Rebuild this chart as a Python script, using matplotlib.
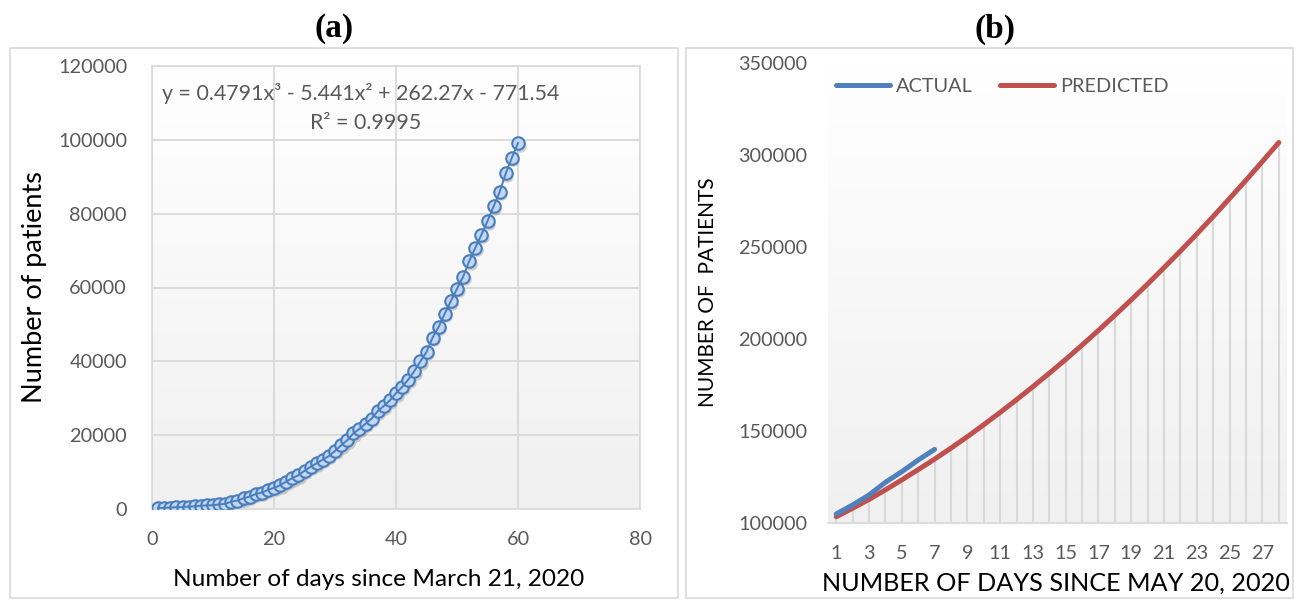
import numpy as np
import matplotlib.pyplot as plt
from matplotlib.colors import LinearSegmentedColormap
from matplotlib.patches import Rectangle
import matplotlib.transforms as mtransforms

# ==========================================
# data
# ==========================================
# (a) cumulative patients, day 1 = March 21, 2020
days_a = list(range(1, 61))
patients_a = [283, 315, 396, 499, 536, 657, 727, 887, 987, 1024,
              1251, 1397, 1998, 2301, 2902, 3374, 4067, 4421, 5194, 5734,
              6412, 7447, 8356, 9152, 10363, 11439, 12380, 13387, 14378, 15712,
              17265, 18601, 20471, 21700, 23077, 24506, 26496, 27892, 29435, 31332,
              33050, 35043, 37336, 39980, 42533, 46433, 49391, 52952, 56342, 59662,
              62939, 67152, 70756, 74281, 78003, 81970, 85940, 90927, 95169, 99139]
equation_text = 'y = 0.4791x\u00b3 - 5.441x\u00b2 + 262.27x - 771.54'
r2_text = 'R\u00b2 = 0.9995'

# (b) actual vs predicted, day 1 = May 20, 2020
days_actual = [1, 2, 3, 4, 5, 6, 7]
actual = [104900, 109800, 115200, 122100, 127900, 134200, 140000]
days_pred = list(range(1, 29))
predicted = [103400, 108000, 112800, 118000, 123400, 129000, 134700, 140700,
             146900, 153400, 160100, 167000, 174100, 181400, 188900, 196700,
             204700, 212900, 221300, 229900, 238800, 247800, 257100, 266600,
             276400, 286300, 296500, 306800]
xticks_b = list(range(1, 29, 2))

# ==========================================
# style
# ==========================================
plt.rcParams['font.family'] = ['Lato', 'DejaVu Sans']
GRAY_TXT = '#595959'
GRID = '#d9d9d9'
bg_cmap = LinearSegmentedColormap.from_list('bg', ['#ffffff', '#f0f0f0'])
grad = np.linspace(0, 1, 256).reshape(-1, 1)

fig = plt.figure(figsize=(12.94, 6.04), dpi=100)
W, H = 1294, 604

def fx(px):
    return px / W

def fy(py):
    return 1 - py / H

# outer chart frames
for x0, x1 in [(10, 678), (686, 1293)]:
    fig.patches.append(Rectangle((fx(x0), fy(598)), fx(x1 - x0), (598 - 48) / H,
                                 transform=fig.transFigure, fill=False,
                                 edgecolor=GRID, linewidth=1.2))

fig.text(fx(334), fy(29), '(a)', ha='center', va='center', fontsize=24,
         fontweight='bold', family='Liberation Serif')
fig.text(fx(995), fy(29), '(b)', ha='center', va='center', fontsize=24,
         fontweight='bold', family='Liberation Serif')

# ==========================================
# (a) scatter with cubic trend
# ==========================================
ax1 = fig.add_axes([fx(152), fy(509), fx(640 - 152), (509 - 66) / H])
ax1.imshow(grad, cmap=bg_cmap, extent=(0, 80, 0, 120000), aspect='auto',
           origin='upper', zorder=0)
ax1.set_xlim(0, 80)
ax1.set_ylim(0, 120000)
ax1.set_xticks(range(0, 81, 20))
ax1.set_yticks(range(0, 120001, 20000))
ax1.grid(True, color=GRID, linewidth=1.3, zorder=1)
ax1.set_axisbelow(True)
for s in ax1.spines.values():
    s.set_color(GRID)
    s.set_linewidth(1.2)
ax1.tick_params(length=0, labelsize=14.3, labelcolor=GRAY_TXT)
ax1.tick_params(axis='x', pad=16)
ax1.tick_params(axis='y', pad=18)

shadow = mtransforms.offset_copy(ax1.transData, fig=fig, x=1.5, y=-2.5, units='dots')
ax1.plot(days_a, patients_a, 'o', ms=9, color='#7f7f7f', alpha=0.35,
         mec='none', transform=shadow, zorder=2)
ax1.plot(days_a, patients_a, 'o', ms=9, mfc='#c2d7f5', mec='#4a7ebb',
         mew=1.5, zorder=3)
ax1.plot(days_a, patients_a, '-', color='#4a7ebb', lw=1.4, zorder=4)

ax1.text(0.428, 0.939, equation_text, transform=ax1.transAxes, ha='center',
         va='center', fontsize=15.4, color=GRAY_TXT, zorder=5)
ax1.text(0.437, 0.872, r2_text, transform=ax1.transAxes, ha='center',
         va='center', fontsize=15.4, color=GRAY_TXT, zorder=5)

fig.text(fx(35), fy(287), 'Number of patients', rotation=90, ha='center',
         va='center', fontsize=19.5)
fig.text(fx(379), fy(580), 'Number of days since March 21, 2020', ha='center',
         va='center', fontsize=17.6)

# ==========================================
# (b) actual vs predicted
# ==========================================
ax2 = fig.add_axes([fx(828), fy(523), fx(1287 - 828), (523 - 63) / H])
ax2.imshow(grad, cmap=bg_cmap, extent=(0.5, 28.5, 100000, 350000), aspect='auto',
           origin='upper', zorder=0)
ax2.set_xlim(0.5, 28.5)
ax2.set_ylim(100000, 350000)
ax2.set_yticks(range(100000, 350001, 50000))
ax2.set_xticks(xticks_b)
for side in ['top', 'right', 'left']:
    ax2.spines[side].set_visible(False)
ax2.spines['bottom'].set_color(GRID)
ax2.spines['bottom'].set_linewidth(1.3)
ax2.tick_params(length=0, labelsize=14.3, labelcolor=GRAY_TXT)
ax2.tick_params(axis='x', pad=16)
ax2.tick_params(axis='y', pad=15)

# drop lines
ax2.vlines(days_pred, 100000, predicted, color=GRID, lw=1.5, zorder=1)

ax2.plot(days_actual, actual, color='#4f81bd', lw=3.6, solid_capstyle='round',
         label='ACTUAL', zorder=3)
ax2.plot(days_pred, predicted, color='#c0504d', lw=3.6, solid_capstyle='round',
         label='PREDICTED', zorder=2)

leg = ax2.legend(loc='center left', bbox_to_anchor=(fx(836), fy(86)),
                 bbox_transform=fig.transFigure, ncol=2, frameon=False,
                 fontsize=14.3, handlelength=2.7, handletextpad=0.3,
                 columnspacing=1.4, borderaxespad=0, borderpad=0)
for t in leg.get_texts():
    t.set_color(GRAY_TXT)

fig.text(fx(708), fy(292), 'NUMBER OF  PATIENTS', rotation=90, ha='center',
         va='center', fontsize=15)
fig.text(fx(1056), fy(583), 'NUMBER OF DAYS SINCE MAY 20, 2020', ha='center',
         va='center', fontsize=18.2)

fig.savefig('out.png', dpi=100)
